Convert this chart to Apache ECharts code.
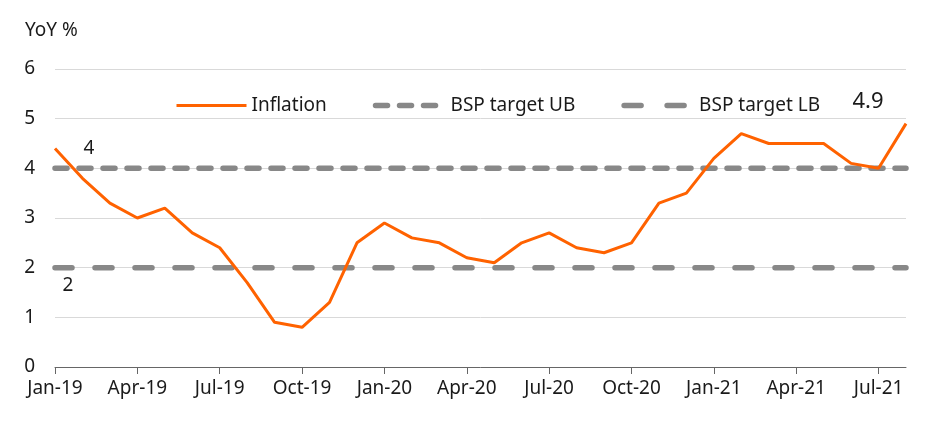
<!DOCTYPE html>
<html><head><meta charset="utf-8">
<script src="https://cdn.jsdelivr.net/npm/echarts@6/dist/echarts.min.js"></script>
<style>html,body{margin:0;padding:0;background:#fff}#c{width:952px;height:438px}</style>
</head><body><div id="c"></div>
<script>
const categories = ["Jan-19","Feb-19","Mar-19","Apr-19","May-19","Jun-19","Jul-19","Aug-19","Sep-19","Oct-19","Nov-19","Dec-19",
"Jan-20","Feb-20","Mar-20","Apr-20","May-20","Jun-20","Jul-20","Aug-20","Sep-20","Oct-20","Nov-20","Dec-20",
"Jan-21","Feb-21","Mar-21","Apr-21","May-21","Jun-21","Jul-21","Aug-21"];
const inflation = [4.4,3.8,3.3,3.0,3.2,2.7,2.4,1.7,0.9,0.8,1.3,2.5,2.9,2.6,2.5,2.2,2.1,2.5,2.7,2.4,2.3,2.5,3.3,3.5,4.2,4.7,4.5,4.5,4.5,4.1,4.0,4.9];
const targetUB = 4;
const targetLB = 2;
const yTicks = [0,1,2,3,4,5,6];

const ub = categories.map(() => targetUB);
const lb = categories.map(() => targetLB);
const FONT = "Noto Sans";
const TXT = '#1a1a1a';
const GRAY = '#888';
const ORANGE = '#ff6200';
function mp(coord, text, offset, size) {
  return {symbol: 'circle', symbolSize: 0, silent: true,
    data: [{coord: coord, value: text}],
    label: {show: true, position: 'inside', formatter: text, offset: offset, fontSize: size, color: TXT, fontFamily: FONT}};
}
const chart = echarts.init(document.getElementById('c'));
chart.setOption({
  animation: false,
  textStyle: {fontFamily: FONT},
  title: {text: "YoY %", left: 20, top: 16, textStyle: {fontSize: 19, fontWeight: 'normal', color: TXT, fontFamily: FONT}},
  legend: {
    left: 170, top: 91, itemWidth: 70, itemHeight: 16, itemGap: 46,
    itemStyle: {opacity: 0},
    textStyle: {fontSize: 19, color: TXT, fontFamily: FONT},
    data: [
      {name: 'Inflation', lineStyle: {width: 3, color: ORANGE}},
      {name: 'BSP target UB', lineStyle: {width: 5.5, color: GRAY, type: [12, 12], cap: 'round'}},
      {name: 'BSP target LB', lineStyle: {width: 5.5, color: GRAY, type: [17, 26], cap: 'round'}}
    ]
  },
  grid: {left: 55, right: 46, top: 69, bottom: 71},
  xAxis: {
    type: 'category', data: categories, boundaryGap: false,
    axisLine: {lineStyle: {color: '#666', width: 1}},
    axisTick: {show: true, interval: 2, length: 7, lineStyle: {color: '#666'}},
    axisLabel: {interval: 2, fontSize: 19, color: TXT, margin: 12, fontFamily: FONT}
  },
  yAxis: {
    type: 'value', min: yTicks[0], max: yTicks[yTicks.length-1], interval: 1,
    axisLine: {show: false}, axisTick: {show: false},
    axisLabel: {fontSize: 19, color: TXT, margin: 20, fontFamily: FONT},
    splitLine: {lineStyle: {color: '#d9d9d9', width: 1}}
  },
  series: [
    {name: 'BSP target UB', type: 'line', data: ub, symbol: 'none', z: 2,
     lineStyle: {color: GRAY, width: 5.5, type: [12, 12], cap: 'round'},
     itemStyle: {color: GRAY},
     markPoint: mp([categories[0], targetUB], String(targetUB), [34, -20], 19)},
    {name: 'BSP target LB', type: 'line', data: lb, symbol: 'none', z: 2,
     lineStyle: {color: GRAY, width: 5.5, type: [17, 23], cap: 'round'},
     itemStyle: {color: GRAY},
     markPoint: mp([categories[0], targetLB], String(targetLB), [13, 18], 19)},
    {name: 'Inflation', type: 'line', data: inflation, symbol: 'none', z: 3,
     lineStyle: {color: ORANGE, width: 3},
     itemStyle: {color: ORANGE},
     markPoint: mp([categories[categories.length-1], inflation[inflation.length-1]], inflation[inflation.length-1].toFixed(1), [-38, -22], 22)}
  ]
});
</script></body></html>
